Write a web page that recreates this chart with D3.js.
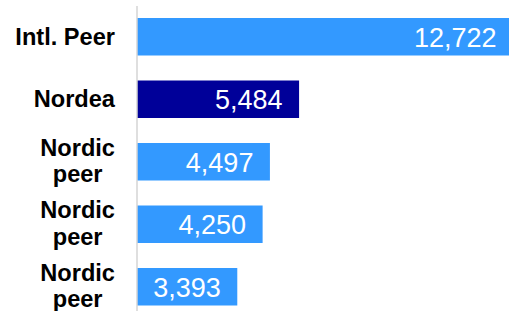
<!DOCTYPE html>
<html>
<head>
<meta charset="utf-8">
<script src="https://cdn.jsdelivr.net/npm/d3@7"></script>
<style>
  body { margin: 0; background: #fff; }
  svg { display: block; }
</style>
</head>
<body>
<div id="chart"></div>
<script>
var width = 509, height = 311;
var margin = { top: 5.5, left: 137 };

var categories = ["Intl. Peer", "Nordea", "Nordic peer", "Nordic peer", "Nordic peer"];
var values = [12722, 5484, 4497, 4250, 3393];
var highlight = "Nordea";

var barColor = "#3399ff";
var highlightColor = "#000099";
var formatValue = d3.format(",");

var data = categories.map((c, i) => { return { idx: i, name: c, value: values[i] }; });

var svg = d3.select("#chart").append("svg")
    .attr("width", width)
    .attr("height", height);

var y = d3.scaleBand()
    .domain(data.map(d => d.idx))
    .range([margin.top, margin.top + 312.5])
    .paddingInner(0.4)
    .paddingOuter(0.2);

var x = d3.scaleLinear()
    .domain([0, 12722])
    .range([0, 376]);

var g = svg.append("g")
    .attr("transform", "translate(" + margin.left + ",0)");

g.selectAll(".bar")
    .data(data)
    .enter().append("rect")
    .attr("class", "bar")
    .attr("x", 0)
    .attr("y", d => y(d.idx))
    .attr("width", d => x(d.value))
    .attr("height", y.bandwidth())
    .style("fill", d => d.name === highlight ? highlightColor : barColor);

g.selectAll(".label")
    .data(data)
    .enter().append("text")
    .attr("class", "label")
    .attr("x", d => x(d.value) - 16.5)
    .attr("y", d => y(d.idx) + y.bandwidth() / 2 + 9.8)
    .attr("text-anchor", "end")
    .style("font-family", "Arial, 'Liberation Sans', sans-serif")
    .style("font-size", "27px")
    .style("fill", "#fff")
    .text(d => formatValue(d.value));

// category axis, labels wrapped by hand
var yAxis = d3.axisLeft(y).tickSize(0).tickSizeOuter(0).tickFormat("");
var axisG = svg.append("g")
    .attr("transform", "translate(" + (margin.left - 0.5) + ",0)")
    .call(yAxis);
axisG.select(".domain").attr("stroke", "#d4d4d4").attr("stroke-width", 1.5);

var labelRight = 115;
axisG.selectAll(".tick").each(function(idx) {
    var name = categories[idx];
    var words = name.startsWith("Nordic") ? name.split(" ") : [name];
    var t = d3.select(this).append("text")
        .attr("fill", "#000")
        .style("font-family", "Arial, 'Liberation Sans', sans-serif")
        .style("font-size", "23.6px")
        .style("font-weight", "bold")
        .attr("text-anchor", "middle");
    var dy0 = words.length > 1 ? -6 : 8;
    words.forEach((w, i) => {
        t.append("tspan").attr("x", 0).attr("y", dy0 + i * 26.5).text(w);
    });
    var maxW = 0;
    t.selectAll("tspan").each(function() { maxW = Math.max(maxW, this.getComputedTextLength()); });
    t.selectAll("tspan").attr("x", labelRight - (margin.left - 0.5) - maxW / 2);
});
</script>
</body>
</html>
